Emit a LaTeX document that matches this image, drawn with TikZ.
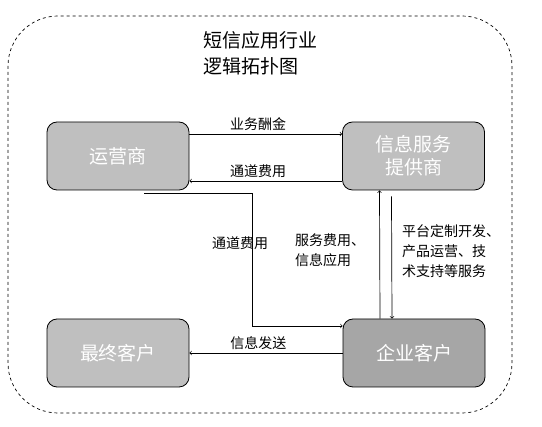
\documentclass[tikz,border=0pt]{standalone}
\usepackage{fontspec}
\setmainfont{Noto Sans CJK SC}
\usepackage{xcolor}
\usetikzlibrary{arrows}
\usetikzlibrary{positioning, math}
\definecolor{boxgray}{RGB}{191,191,191}
\definecolor{boxdark}{RGB}{166,166,166}

\begin{document}
\begin{tikzpicture}[x=1pt,y=-1pt]
\tikzmath{
\W=142; \H=68;
}
\tikzset{
  box/.style={draw, line width=0.8, rounded corners=10, fill=boxgray, text=white,
    minimum width=\W, minimum height=\H, align=center,
    font=\fontsize{19}{23}\selectfont},
  lbl/.style={font=\fontsize{14}{20}\selectfont, align=left},
  flow/.style={->, line width=0.7}
}
\useasboundingbox (0,0) rectangle (542,427);

% frame
\draw[dashed, line width=0.7, rounded corners=50] (8,16) rectangle (512,413);
\node[anchor=north west, align=left, inner sep=0, font=\fontsize{19}{26}\selectfont] (title) at (203,31) {短信应用行业\\逻辑拓扑图};

% boxes
\node[box] (op) at (118,156) {运营商};
\node[box] (isp) at (413.5,156) {信息服务\\提供商};
\node[box] (user) at (118,353) {最终客户};
\node[box, fill=boxdark] (corp) at (414,353) {企业客户};

% top pair
\draw[flow] ([yshift=22pt]op.east) -- ([yshift=22pt]isp.west) node[pos=0.45,above,lbl] {业务酬金};
\draw[flow] ([yshift=-25pt]isp.west) -- ([yshift=-25pt]op.east) node[pos=0.55,above,lbl] {通道费用};

% isp <-> corp
\draw[flow] ([xshift=-34pt]corp.north) -- ([xshift=-34pt]isp.south);
\draw[flow] ([xshift=-22pt,yshift=-6pt]isp.south) -- ([xshift=-22pt]corp.north);

% op -> corp
\coordinate (turn) at (252,326);
\draw[flow] ([xshift=26pt,yshift=-3pt]op.south) -| (turn) -- (turn -| corp.west);
\node[lbl] (fee) at (240,243) {通道费用};
\node[lbl, anchor=north west, inner sep=0] (svc) at (295,234) {服务费用、\\信息应用};
\node[lbl, anchor=north west, inner sep=0] (plat) at (402,224) {平台定制开发、\\产品运营、技\\术支持等服务};

% corp -> user
\draw[flow] (corp.west) -- (user.east) node[pos=0.55,above,lbl] {信息发送};

\end{tikzpicture}
\end{document}
